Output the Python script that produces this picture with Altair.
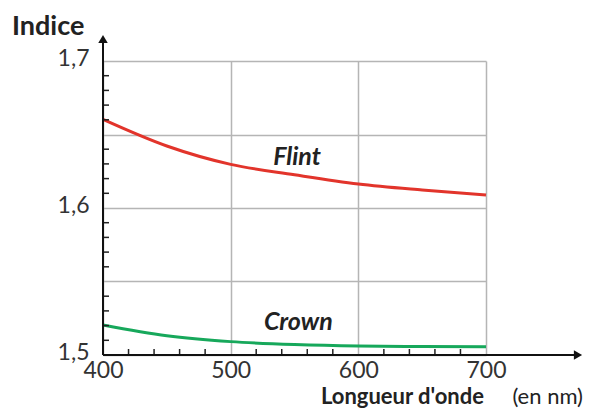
import altair as alt
import pandas as pd

# Data
wavelength = [400, 450, 500, 550, 600, 650, 700]
flint = [1.6603, 1.6422, 1.6297, 1.6226, 1.6163, 1.6122, 1.6088]
crown = [1.5204, 1.5131, 1.5091, 1.5071, 1.5061, 1.5058, 1.5056]
x_major = [400, 500, 600, 700]
y_major = [1.5, 1.55, 1.6, 1.65, 1.7]
x_minor = [420, 440, 460, 480, 520, 540, 560, 580, 620, 640, 660, 680]
y_minor = [1.51, 1.52, 1.53, 1.54, 1.56, 1.57, 1.58, 1.59,
           1.61, 1.62, 1.63, 1.64, 1.66, 1.67, 1.68, 1.69]
series_labels = ["Flint", "Crown"]
label_x = [552, 553]
label_y = [1.635, 1.5224]

FONT = "Lato"
W, H = 383, 294

df = pd.DataFrame({
    "x": wavelength * 2,
    "y": flint + crown,
    "s": ["Flint"] * len(wavelength) + ["Crown"] * len(wavelength),
})
lab = pd.DataFrame({"x": label_x, "y": label_y, "t": series_labels})
xm = pd.DataFrame({"x": x_minor})
ym = pd.DataFrame({"y": y_minor})
one = pd.DataFrame({"a": [1]})

xs = alt.Scale(domain=[400, 700], nice=False, zero=False)
ys = alt.Scale(domain=[1.5, 1.7], nice=False, zero=False)

x_axis = alt.Axis(values=x_major, grid=True, domain=False, ticks=False,
                  labelPadding=4, labelFlush=False, title=None, format="d")
y_axis = alt.Axis(values=y_major, grid=True, domain=False, ticks=False,
                  labelPadding=14, labelFlush=False, title=None, labelOffset=-3,
                  labelExpr="(datum.value == 1.5 || datum.value == 1.6 || datum.value == 1.7) ? replace(format(datum.value, '.1f'), '.', ',') : ''")

lines = alt.Chart(df).mark_line(strokeWidth=3, interpolate="monotone").encode(
    x=alt.X("x:Q", scale=xs, axis=x_axis),
    y=alt.Y("y:Q", scale=ys, axis=y_axis),
    color=alt.Color("s:N", scale=alt.Scale(domain=["Flint", "Crown"],
                                           range=["#e2342b", "#17a85b"]), legend=None),
)

texts = alt.Chart(lab).mark_text(font=FONT, fontSize=25, fontWeight="bold",
                                 fontStyle="italic", color="#222222",
                                 baseline="middle").encode(
    x=alt.X("x:Q", scale=xs), y=alt.Y("y:Q", scale=ys), text="t:N")

xticks = alt.Chart(xm).mark_rule(color="#222222", strokeWidth=1.5).encode(
    x=alt.X("x:Q", scale=xs), y=alt.value(H), y2=alt.value(H - 6))
yticks = alt.Chart(ym).mark_rule(color="#222222", strokeWidth=1.5).encode(
    y=alt.Y("y:Q", scale=ys), x=alt.value(0), x2=alt.value(6))

x_line = alt.Chart(one).mark_rule(color="#111111", strokeWidth=2).encode(
    x=alt.value(0), x2=alt.value(474), y=alt.value(H))
y_line = alt.Chart(one).mark_rule(color="#111111", strokeWidth=2).encode(
    x=alt.value(0), y=alt.value(H), y2=alt.value(-20))

x_arrow = alt.Chart(one).mark_point(
    shape="triangle-right", filled=True, color="#111111", size=90, opacity=1).encode(
    x=alt.value(475), y=alt.value(H))
y_arrow = alt.Chart(one).mark_point(
    shape="triangle-up", filled=True, color="#111111", size=90, opacity=1).encode(
    x=alt.value(0), y=alt.value(-22))

t_indice = alt.Chart(one).mark_text(
    text="Indice", font=FONT, fontSize=27, fontWeight="bold", color="#222222",
    align="left", baseline="alphabetic").encode(x=alt.value(-91), y=alt.value(-26))
t_long = alt.Chart(one).mark_text(
    text="Longueur d'onde", font=FONT, fontSize=22, fontWeight="bold", color="#222222",
    align="right", baseline="alphabetic").encode(x=alt.value(381), y=alt.value(343))
t_unit = alt.Chart(one).mark_text(
    text="(en nm)", font=FONT, fontSize=22, color="#222222",
    align="right", baseline="alphabetic").encode(x=alt.value(480), y=alt.value(343))

chart = alt.layer(lines, xticks, yticks, x_line, y_line, x_arrow, y_arrow,
                  texts, t_indice, t_long, t_unit).properties(
    width=W, height=H,
    autosize=alt.AutoSizeParams(type="none"),
    padding={"left": 95, "top": 53, "right": 98, "bottom": 55},
).configure_view(stroke=None).configure_axis(
    gridColor="#b5b5b5", gridWidth=1.5, labelFont=FONT, labelFontSize=23,
    labelColor="#333333",
)

chart.save("out.html", embed_options={"renderer": "svg", "actions": False})
